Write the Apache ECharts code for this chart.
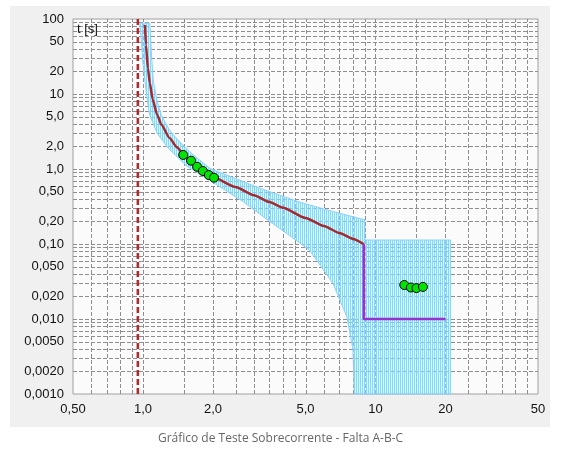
<!DOCTYPE html>
<html>
<head>
<meta charset="utf-8">
<script src="https://cdn.jsdelivr.net/npm/echarts@6/dist/echarts.min.js"></script>
<style>
html,body{margin:0;padding:0;background:#fff;}
#wrap{position:relative;width:561px;height:450px;}
#panel{position:absolute;left:10px;top:6px;width:540px;height:421px;background:#f0f0f0;}
#chart{position:absolute;left:0;top:0;width:561px;height:450px;}
</style>
</head>
<body>
<div id="wrap"><div id="panel"></div><div id="chart"></div></div>
<script>
// ---- axis ranges and ticks ----
const xRange = [0.5, 50];
const yRange = [0.001, 100];
const xTickValues = [0.5, 1, 2, 5, 10, 20, 50];
const xTickLabels = ['0,50', '1,0', '2,0', '5,0', '10', '20', '50'];
const yTickValues = [0.001, 0.002, 0.005, 0.01, 0.02, 0.05, 0.1, 0.2, 0.5, 1, 2, 5, 10, 20, 50, 100];
const yTickLabels = ['0,0010', '0,0020', '0,0050', '0,010', '0,020', '0,050', '0,10', '0,20', '0,50', '1,0', '2,0', '5,0', '10', '20', '50', '100'];
const xGridValues = [0.6, 0.7, 0.8, 0.9, 1, 1.5, 2, 2.5, 3, 3.5, 4, 4.5, 5, 6, 7, 8, 9, 10, 15, 20, 25, 30, 35, 40, 45];
const yGridValues = [0.002, 0.003, 0.004, 0.005, 0.006, 0.007, 0.008, 0.009, 0.01,
  0.02, 0.03, 0.04, 0.05, 0.06, 0.07, 0.08, 0.09, 0.1,
  0.2, 0.3, 0.4, 0.5, 0.6, 0.7, 0.8, 0.9, 1,
  2, 3, 4, 5, 6, 7, 8, 9, 10,
  20, 30, 40, 50, 60, 70, 80, 90];

// ---- protection curve (current multiple, time s) ----
const curveCurrent = [1.02, 1.03, 1.05, 1.07, 1.1, 1.15, 1.2, 1.3, 1.4, 1.5, 1.6, 1.7, 1.8, 1.9, 2.0, 2.5, 3.0, 3.5, 4.0, 5.0, 6.0, 7.0, 8.0, 8.9];
const curveTime    = [83, 45, 22, 14, 8.5, 5.3, 3.9, 2.6, 1.95, 1.55, 1.29, 1.1, 0.96, 0.86, 0.78, 0.575, 0.448, 0.362, 0.304, 0.223, 0.174, 0.140, 0.117, 0.10];

// ---- instantaneous stage ----
const instCurrent = [8.9, 8.9, 20];
const instTime    = [0.10, 0.01, 0.01];

// ---- pickup line ----
const pickupCurrent = [0.95, 0.95];
const pickupTime    = [0.001, 100];

// ---- tolerance band polygon ----
const bandCurrent = [1.07, 1.09, 1.108, 1.15, 1.2, 1.3, 1.4, 1.52, 1.646, 1.94, 2.29, 3.19, 4.74, 6.59, 9.0,
  9.0, 21, 21, 8.1,
  8.0, 7.54, 6.56, 5.2, 4.0, 3.52, 2.70, 2.07, 1.54, 1.285, 1.15, 1.07, 1.045, 1.02, 1.0, 0.99, 0.97];
const bandTime = [88, 30, 14.6, 8, 5.2, 3.3, 2.5, 1.95, 1.54, 1.02, 0.83, 0.553, 0.36, 0.27, 0.21,
  0.113, 0.113, 0.001, 0.001,
  0.0039, 0.0106, 0.030, 0.083, 0.15, 0.198, 0.366, 0.62, 1.1, 1.89, 3.0, 5.2, 8, 14.6, 25, 40, 88];

// ---- test points ----
const testCurrentA = [1.49, 1.61, 1.71, 1.81, 1.92, 2.02];
const testTimeA    = [1.54, 1.29, 1.07, 0.94, 0.83, 0.766];
const testCurrentB = [13.3, 14.2, 15.0, 16.0];
const testTimeB    = [0.0284, 0.0263, 0.0258, 0.0268];

const caption = 'Gráfico de Teste Sobrecorrente - Falta A-B-C';
const yName = 't [s]';

function pairs(a, b) { return a.map((v, i) => [v, b[i]]); }

function makeHatch() {
  const c = document.createElement('canvas');
  c.width = 2; c.height = 2;
  const g = c.getContext('2d');
  g.fillStyle = 'rgba(135,204,246,0.9)';
  g.fillRect(0, 0, 1, 2);
  g.fillStyle = 'rgba(205,234,252,0.45)';
  g.fillRect(1, 0, 1, 2);
  return c;
}
const hatch = makeHatch();
const labelFont = '"Liberation Sans", Arial, sans-serif';

const chart = echarts.init(document.getElementById('chart'), null, {renderer: 'canvas'});
const option = {
  animation: false,
  backgroundColor: 'transparent',
  title: {
    text: caption, left: 'center', top: 428,
    textStyle: {fontFamily: '"Open Sans", sans-serif', fontSize: 12, fontWeight: 'normal', color: '#666'}
  },
  graphic: [{
    type: 'text', left: 77, top: 23, z: 100,
    style: {text: yName, fontFamily: labelFont, fontSize: 13, fill: '#111'}
  }],
  grid: {
    left: 73, top: 19, right: 23, bottom: 56,
    show: true, backgroundColor: '#fbfbfb', borderColor: '#a0a0a0', borderWidth: 1
  },
  xAxis: {
    type: 'log', logBase: 10, min: xRange[0], max: xRange[1],
    axisLine: {show: false}, axisTick: {show: false}, axisLabel: {show: false}, splitLine: {show: false}
  },
  yAxis: {
    type: 'log', logBase: 10, min: yRange[0], max: yRange[1],
    axisLine: {show: false}, axisTick: {show: false}, axisLabel: {show: false}, splitLine: {show: false}
  },
  series: [
    { // vertical grid lines
      type: 'custom', silent: true, z: 1, clip: false,
      data: xGridValues.map(v => [v, yRange[0]]),
      renderItem: function (params, api) {
        const v = api.value(0);
        const p1 = api.coord([v, yRange[0]]);
        const p2 = api.coord([v, yRange[1]]);
        const x = Math.round(p1[0]) + 0.5;
        return {type: 'line', shape: {x1: x, y1: p1[1], x2: x, y2: p2[1]},
          style: {stroke: '#8e8e8e', lineWidth: 1, lineDash: [4, 2]}};
      }
    },
    { // horizontal grid lines
      type: 'custom', silent: true, z: 1, clip: false,
      data: yGridValues.map(v => [xRange[0], v]),
      renderItem: function (params, api) {
        const v = api.value(1);
        const p1 = api.coord([xRange[0], v]);
        const p2 = api.coord([xRange[1], v]);
        const y = Math.round(p1[1]) + 0.5;
        return {type: 'line', shape: {x1: p1[0], y1: y, x2: p2[0], y2: y},
          style: {stroke: '#8e8e8e', lineWidth: 1, lineDash: [4, 2]}};
      }
    },
    { // x tick labels
      type: 'custom', silent: true, z: 5, clip: false,
      data: xTickValues.map(v => [v, yRange[0]]),
      renderItem: function (params, api) {
        const p = api.coord([api.value(0), yRange[0]]);
        return {type: 'text', x: p[0], y: p[1] + 9,
          style: {text: xTickLabels[params.dataIndex], fill: '#111', fontFamily: labelFont, fontSize: 13,
            align: 'center', verticalAlign: 'top'}};
      }
    },
    { // y tick labels
      type: 'custom', silent: true, z: 5, clip: false,
      data: yTickValues.map(v => [xRange[0], v]),
      renderItem: function (params, api) {
        const p = api.coord([xRange[0], api.value(1)]);
        return {type: 'text', x: p[0] - 9, y: p[1],
          style: {text: yTickLabels[params.dataIndex], fill: '#111', fontFamily: labelFont, fontSize: 13,
            align: 'right', verticalAlign: 'middle'}};
      }
    },
    { // tolerance band
      type: 'custom', silent: true, z: 2,
      data: pairs(bandCurrent, bandTime),
      renderItem: function (params, api) {
        if (params.dataIndex !== 0) return null;
        const pts = bandCurrent.map((v, i) => api.coord([v, bandTime[i]]));
        return {type: 'polygon', shape: {points: pts},
          style: {fill: {image: hatch, repeat: 'repeat'}, stroke: '#8fd0f8', lineWidth: 1}};
      }
    },
    { // pickup line
      type: 'line', z: 3, silent: true, showSymbol: false,
      data: pairs(pickupCurrent, pickupTime),
      lineStyle: {color: '#b22a2a', width: 2.5, type: [6, 3]}
    },
    { // curve
      type: 'line', z: 3, silent: true, showSymbol: false, smooth: 0.2, smoothMonotone: 'x',
      data: pairs(curveCurrent, curveTime),
      lineStyle: {color: '#a52a2a', width: 2.5}
    },
    { // instantaneous
      type: 'line', z: 3, silent: true, showSymbol: false,
      data: pairs(instCurrent, instTime),
      lineStyle: {color: '#9932cc', width: 2.5}
    },
    {
      type: 'scatter', z: 4, silent: true, symbol: 'circle', symbolSize: 9,
      data: pairs(testCurrentA, testTimeA),
      itemStyle: {color: '#00e400', borderColor: '#000', borderWidth: 1, opacity: 1}
    },
    {
      type: 'scatter', z: 4, silent: true, symbol: 'circle', symbolSize: 9,
      data: pairs(testCurrentB, testTimeB),
      itemStyle: {color: '#00e400', borderColor: '#000', borderWidth: 1, opacity: 1}
    }
  ]
};
chart.setOption(option);
</script>
</body>
</html>
